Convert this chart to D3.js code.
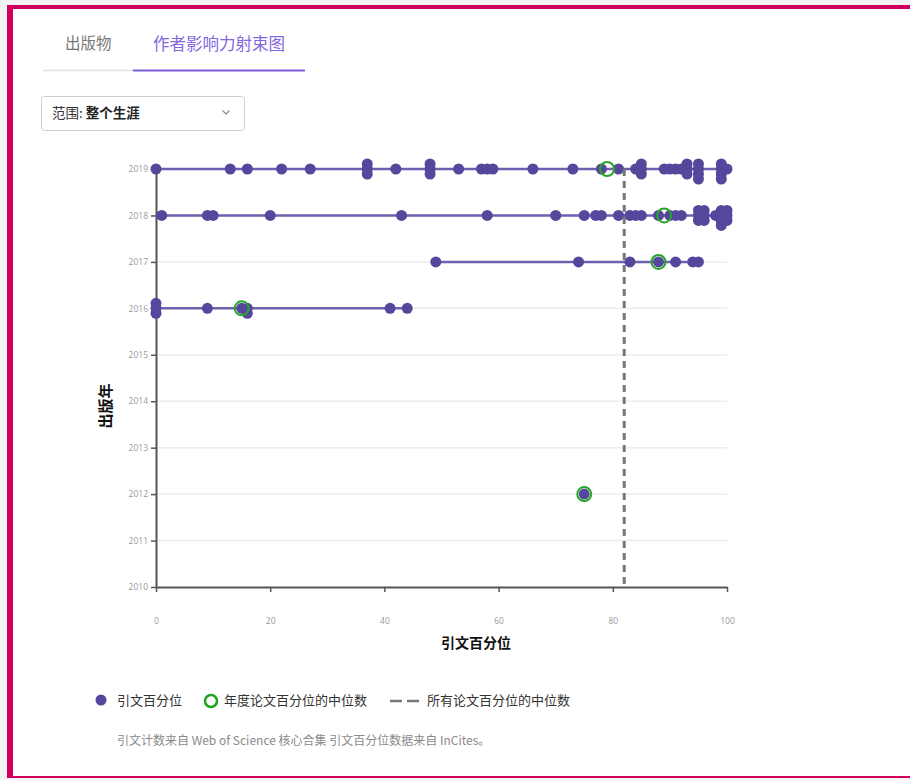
<!DOCTYPE html>
<html>
<head>
<meta charset="utf-8">
<script src="https://cdn.jsdelivr.net/npm/d3@7"></script>
<style>
  body { margin: 0; background: #f3f3f3; font-family: "Noto Sans CJK SC", "Noto Sans", sans-serif; overflow: hidden; }
  .frame { position: absolute; left: 7px; top: 5px; width: 1000px; height: 767px; background: #fff;
    border-top: 4px solid #d2005c; border-left: 6px solid #d2005c; border-bottom: 2px solid #d2005c; }
  #chart { position: absolute; left: 0; top: 0; }
</style>
</head>
<body>
<div class="frame"></div>
<svg id="chart" width="910" height="780"></svg>
<script>
// citation percentiles per publication year
const years = [2019, 2018, 2017, 2016, 2012];
const pct2019 = [0, 13, 16, 22, 27, 37, 37, 37, 42, 48, 48, 48, 53, 57, 58, 59, 66, 73, 78, 81,
  84, 85, 85, 85, 89, 90, 91, 92, 93, 93, 93, 95, 95, 95, 95, 99, 99, 99, 99, 100];
const pct2018 = [1, 9, 10, 20, 43, 58, 70, 75, 77, 78, 81, 83, 84, 85, 88, 90, 91, 92,
  95, 95, 95, 96, 96, 96, 98, 99, 99, 99, 99, 100, 100, 100];
const pct2017 = [49, 74, 83, 88, 91, 94, 95];
const pct2016 = [0, 0, 0, 9, 15, 16, 16, 41, 44];
const pct2012 = [75];
const yearMedians = [79, 89, 88, 15, 75];
const overallMedian = 82;
const xTicks = [0, 20, 40, 60, 80, 100];
const yTicks = [2010, 2011, 2012, 2013, 2014, 2015, 2016, 2017, 2018, 2019];

const pctByYear = [pct2019, pct2018, pct2017, pct2016, pct2012];

const plotLeft = 156, plotRight = 727, plotTop = 169, plotBottom = 587;
const dotR = 5.5;
const purple = '#55479b';

const svg = d3.select('#chart');

const x = d3.scaleLinear().domain([0, 100]).range([plotLeft, plotRight]);
const y = d3.scaleLinear().domain([2010, 2019]).range([plotBottom, plotTop]);

// tabs
svg.append('text').text('出版物')
  .attr('x', 65).attr('y', 44).attr('dy', '0.35em')
  .style('font-size', '15.5px').attr('fill', '#777');
svg.append('text').text('作者影响力射束图')
  .attr('x', 153).attr('y', 44).attr('dy', '0.35em')
  .style('font-size', '16.5px').attr('fill', '#8466df');
svg.append('line').attr('x1', 43).attr('x2', 133).attr('y1', 70.5).attr('y2', 70.5)
  .attr('stroke', '#e2e2e2').attr('stroke-width', 1.5);
svg.append('line').attr('x1', 133).attr('x2', 305).attr('y1', 70.5).attr('y2', 70.5)
  .attr('stroke', '#7d5ddc').attr('stroke-width', 2);

// scope dropdown
svg.append('rect').attr('x', 41.5).attr('y', 96.5).attr('width', 203).attr('height', 34)
  .attr('rx', 3).attr('fill', '#fff').attr('stroke', '#cfcfcf');
const scope = svg.append('text').attr('x', 52).attr('y', 113).attr('dy', '0.35em')
  .style('font-size', '13.5px').attr('fill', '#333');
scope.append('tspan').text('范围: ');
scope.append('tspan').text('整个生涯').style('font-weight', 'bold').attr('fill', '#222');
svg.append('polyline').attr('points', '222.5,110.5 226,114 229.5,110.5')
  .attr('fill', 'none').attr('stroke', '#888').attr('stroke-width', 1.2);

// gridlines
svg.append('g')
  .selectAll('line')
  .data(yTicks.slice(1))
  .enter()
  .append('line')
  .attr('x1', plotLeft).attr('x2', plotRight)
  .attr('y1', (d) => y(d)).attr('y2', (d) => y(d))
  .attr('stroke', '#ececec').attr('stroke-width', 1.5);

// axes
const bottomAxis = d3.axisBottom(x).tickValues(xTicks).tickSize(5).tickPadding(26).tickSizeOuter(0);
const gx = svg.append('g').attr('transform', `translate(0, ${plotBottom})`).call(bottomAxis);
const leftAxis = d3.axisLeft(y).tickValues(yTicks).tickFormat(d3.format('d')).tickSize(5).tickPadding(3).tickSizeOuter(0);
const gy = svg.append('g').attr('transform', `translate(${plotLeft}, 0)`).call(leftAxis);
[gx, gy].forEach((g) => {
  g.select('.domain').attr('stroke', '#555').attr('stroke-width', 2);
  g.selectAll('.tick line').attr('stroke', '#555').attr('stroke-width', 1.5);
  g.selectAll('.tick text').attr('fill', '#9a9a9a')
    .style('font-size', '8.5px').style('font-family', '"Open Sans", "Noto Sans", sans-serif');
});

svg.append('text').text('引文百分位')
  .attr('x', 476).attr('y', 643).attr('dy', '0.35em').attr('text-anchor', 'middle')
  .style('font-size', '14px').style('font-weight', 'bold').attr('fill', '#111');
svg.append('text').text('出版年')
  .attr('transform', 'translate(106, 406) rotate(-90)').attr('dy', '0.35em').attr('text-anchor', 'middle')
  .style('font-size', '15px').style('font-weight', 'bold').attr('fill', '#111');

// range line per year
svg.append('g')
  .selectAll('line')
  .data(years)
  .enter()
  .append('line')
  .attr('x1', (d, i) => x(d3.min(pctByYear[i])))
  .attr('x2', (d, i) => x(d3.max(pctByYear[i])))
  .attr('y1', (d) => y(d)).attr('y2', (d) => y(d))
  .attr('stroke', '#6d60b0').attr('stroke-width', 2.5);

// stack equal values so they don't sit exactly on each other
const step = 5;
function dodge(values, year) {
  const base = y(year);
  const placed = [];
  values.slice().sort(d3.ascending).forEach((v) => {
    const cx = x(v);
    let cy = base;
    for (let k = 0; k < 40; k++) {
      cy = base + (k === 0 ? 0 : (k % 2 ? 1 : -1) * Math.ceil(k / 2) * step);
      if (placed.every((p) => Math.hypot(p.cx - cx, p.cy - cy) >= step - 0.01)) break;
    }
    placed.push({ cx, cy });
  });
  return placed;
}
const dots = years.flatMap((yr, i) => dodge(pctByYear[i], yr));

svg.append('g')
  .selectAll('circle')
  .data(dots)
  .enter()
  .append('circle')
  .attr('cx', (d) => d.cx)
  .attr('cy', (d) => d.cy)
  .attr('r', dotR)
  .attr('fill', purple);

// overall median
svg.append('line')
  .attr('x1', x(overallMedian)).attr('x2', x(overallMedian))
  .attr('y1', plotTop).attr('y2', plotBottom)
  .attr('stroke', '#777').attr('stroke-width', 3).attr('stroke-dasharray', '7,5');

// yearly medians
svg.append('g')
  .selectAll('circle')
  .data(years)
  .enter()
  .append('circle')
  .attr('cx', (d, i) => x(yearMedians[i]))
  .attr('cy', (d) => y(d))
  .attr('r', 7)
  .attr('fill', 'none')
  .attr('stroke', '#26a626')
  .attr('stroke-width', 2);

// legend
const legend = svg.append('g').style('font-size', '13px').attr('fill', '#333');
legend.append('circle').attr('cx', 101).attr('cy', 700).attr('r', 5.5).attr('fill', purple);
legend.append('text').text('引文百分位').attr('x', 117).attr('y', 700).attr('dy', '0.35em');
legend.append('circle').attr('cx', 211).attr('cy', 701).attr('r', 6)
  .attr('fill', 'none').attr('stroke', '#1fa51f').attr('stroke-width', 2.5);
legend.append('text').text('年度论文百分位的中位数').attr('x', 224).attr('y', 700).attr('dy', '0.35em');
legend.append('line').attr('x1', 390).attr('x2', 419).attr('y1', 701).attr('y2', 701)
  .attr('stroke', '#777').attr('stroke-width', 2.5).attr('stroke-dasharray', '12,5');
legend.append('text').text('所有论文百分位的中位数').attr('x', 427).attr('y', 700).attr('dy', '0.35em');

svg.append('text').text('引文计数来自 Web of Science 核心合集 引文百分位数据来自 InCites。')
  .attr('x', 117).attr('y', 741).attr('dy', '0.35em')
  .style('font-size', '12px').attr('fill', '#8a8a8a');
</script>
</body>
</html>
